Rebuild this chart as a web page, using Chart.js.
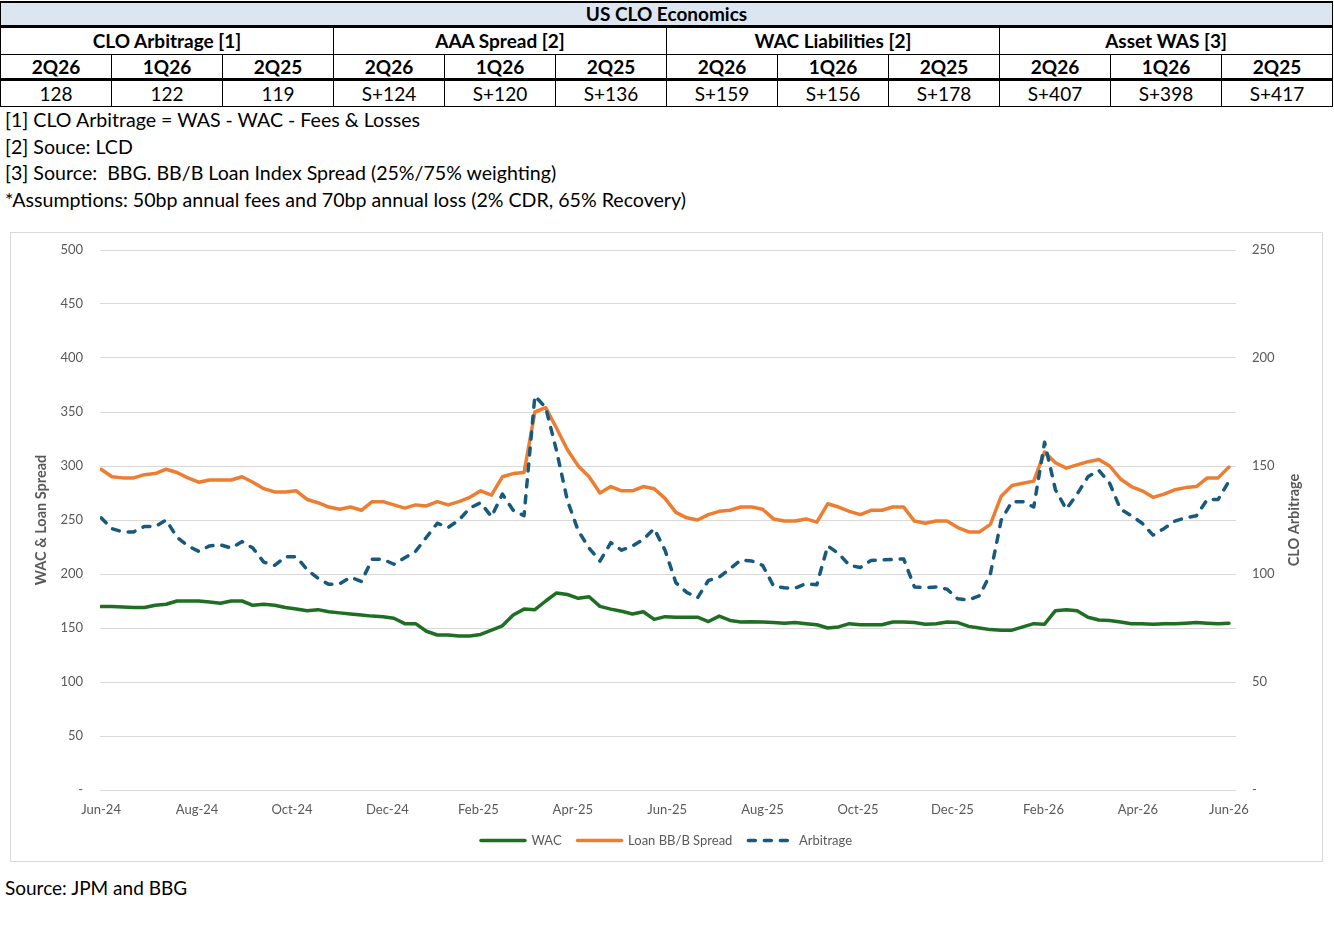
<!DOCTYPE html>
<html>
<head>
<meta charset="utf-8">
<script src="https://cdn.jsdelivr.net/npm/chart.js@4.4.1/dist/chart.umd.min.js"></script>
<style>
body{margin:0;background:#fff;font-family:Lato,"Open Sans",sans-serif;color:#000;}
#tbl{position:absolute;left:0;top:1px;width:1333px;border-collapse:collapse;table-layout:fixed;font-size:19px;}
#tbl td{border:1px solid #000;text-align:center;padding:0;line-height:20px;}
#tbl tr.title td{background:#dce6f1;font-weight:bold;border-top:2px solid #000;border-bottom:3px solid #000;height:22px;}
#tbl tr.grp td{font-weight:bold;height:26px;}
#tbl tr.sub td{font-weight:bold;border-bottom:3px solid #000;height:23px;}
#tbl tr.val td{height:25px;}
#notes{position:absolute;left:5px;top:107px;font-size:19.6px;line-height:26.5px;}
#chartBox{position:absolute;left:10px;top:232px;width:1313px;height:630px;border:1px solid #d9d9d9;box-sizing:border-box;}
#source{position:absolute;left:5px;top:876px;font-size:19px;}
</style>
</head>
<body>
<table id="tbl"></table>
<div id="notes">
[1] CLO Arbitrage = WAS - WAC - Fees &amp; Losses<br>
[2] Souce: LCD<br>
[3] Source:&nbsp; BBG. BB/B Loan Index Spread (25%/75% weighting)<br>
*Assumptions: 50bp annual fees and 70bp annual loss (2% CDR, 65% Recovery)
</div>
<div id="chartBox"><canvas id="clo" width="1311" height="628"></canvas></div>
<div id="source">Source: JPM and BBG</div>

<script>
// table at the top
const tableTitle = 'US CLO Economics';
const tableGroups = ['CLO Arbitrage [1]', 'AAA Spread [2]', 'WAC Liabilities [2]', 'Asset WAS [3]'];
const tableQuarters = ['2Q26', '1Q26', '2Q25'];
const tableValues = [
    ['128', '122', '119'],
    ['S+124', 'S+120', 'S+136'],
    ['S+159', 'S+156', 'S+178'],
    ['S+407', 'S+398', 'S+417']
];

// weekly series, Jun-24 .. Jun-26
const wac = [170,170,169.5,169,169,171,172,175,175,175,174,173,175,175,171,172,171,169,167.5,166,
    167,165,164,163,162,161,160.5,159,154,154,147,143.5,143.5,142.6,142.6,144,148,152,162,167.5,
    167,175,182.5,181,177.5,179,170,167.5,165.5,163,165,158,160.5,160,160,160,156,161,157,155.5,
    155.8,155.5,155,154.5,155,154,153,150,151,154,153,153,153,155.5,155.5,155,153.5,154,155.5,155,
    151.5,150,148.5,148,148,151,154,153.5,166,167,166,160,157.4,157,155.5,154,154,153.5,154,154,
    154.5,155,154.5,154,154.5];
const loanSpread = [297,290,289,289,292,293,297,294,289,285,287,287,287,290,285,279,276,276,277,269,
    266,262,260,262,259,267,267,264,261,264,263,267,264,267,271,277,273,290,293,294,
    350,354,335,315,300,290,275,281,277,277,281,279,270,257,252,250,255,258,259,262,
    262,260,251,249,249,251,248,265,262,258,255,259,259,262,262,249,247,249,249,243,
    239,239,246,272,282,284,286,313,303,298,301,304,306,300,288,281,277,271,274,278,
    280,281,289,289,299];
const arbitrage = [126,121,119.5,119.5,122,122,125,117,113,110.5,113,113.5,112,115,112,105.5,104,108,108,102,
    98,95.2,95.5,98.5,96.5,106.8,106.8,104.5,107.5,110.5,117,123.5,121.5,125,130.5,133,126.5,137,129.5,127,
    182.5,177,157,134,120,112,106,114.5,111,113,116,121,111,96,91.5,89,97,98.5,102.5,106.5,
    106,104,94.5,93.6,93.5,95.5,95,113,109.5,104,103,106.3,106.5,106.7,107,94,93.7,94,93,88.5,
    88,90,100,125,133.5,133.5,131,161,139,130,137,145,148,142,130,127,123.5,118,121,124.5,
    126,127,134.5,134.5,143];

const xTickLabels = ['Jun-24','Aug-24','Oct-24','Dec-24','Feb-25','Apr-25','Jun-25','Aug-25','Oct-25','Dec-25','Feb-26','Apr-26','Jun-26'];
const xTickWeeks = [0, 8.85, 17.6, 26.4, 34.8, 43.5, 52.2, 61.0, 69.8, 78.5, 86.9, 95.6, 104];

function buildTable() {
    let tbl = document.getElementById('tbl');
    let html = '<colgroup>' + '<col>'.repeat(12) + '</colgroup>';
    html += '<tr class="title"><td colspan="12">' + tableTitle + '</td></tr>';
    html += '<tr class="grp">' + tableGroups.map(g => '<td colspan="3">' + g + '</td>').join('') + '</tr>';
    html += '<tr class="sub">' + tableGroups.map(() => tableQuarters.map(q => '<td>' + q + '</td>').join('')).join('') + '</tr>';
    html += '<tr class="val">' + tableValues.map(r => r.map(v => '<td>' + v + '</td>').join('')).join('') + '</tr>';
    tbl.innerHTML = html;
}
buildTable();

function toPoints(values) {
    return values.map((v, i) => ({x: i, y: v}));
}

const tickFont = {family: 'Lato', size: 13};
const titleFont = {family: 'Lato', size: 14.5, weight: 'bold'};
const grey = '#595959';

// Chart.js puts a right-hand title upside down, Excel reads it bottom-to-top
const rightTitle = {
    id: 'rightTitle',
    afterDraw(chart) {
        let ctx = chart.ctx;
        let area = chart.chartArea;
        ctx.save();
        ctx.translate(chart.scales.y1.right - 28, (area.top + area.bottom) / 2);
        ctx.rotate(-Math.PI / 2);
        ctx.font = 'bold 14.5px Lato';
        ctx.fillStyle = grey;
        ctx.textAlign = 'center';
        ctx.textBaseline = 'middle';
        ctx.fillText('CLO Arbitrage', 0, 0);
        ctx.restore();
    }
};

// point-style legend items lose the dash, put it back from the dataset
function legendLabels(chart) {
    let items = Chart.defaults.plugins.legend.labels.generateLabels(chart);
    items.forEach(item => {
        item.lineDash = chart.data.datasets[item.datasetIndex].borderDash || [];
        item.lineCap = 'round';
    });
    return items;
}

new Chart(document.getElementById('clo'), {
    type: 'line',
    data: {
        datasets: [{
            label: 'WAC',
            data: toPoints(wac),
            borderColor: '#1e6e23',
            backgroundColor: '#1e6e23',
            borderWidth: 3.5,
            yAxisID: 'y',
            order: 2
        }, {
            label: 'Loan BB/B Spread',
            data: toPoints(loanSpread),
            borderColor: '#ed7d31',
            backgroundColor: '#ed7d31',
            borderWidth: 3.5,
            yAxisID: 'y',
            order: 1
        }, {
            label: 'Arbitrage',
            data: toPoints(arbitrage),
            borderColor: '#185a7d',
            backgroundColor: '#185a7d',
            borderWidth: 3.5,
            borderDash: [7, 9],
            yAxisID: 'y1',
            order: 0
        }]
    },
    options: {
        responsive: false,
        animation: false,
        elements: {
            point: {radius: 0, pointStyle: 'line'},
            line: {tension: 0, borderJoinStyle: 'round', borderCapStyle: 'round'}
        },
        layout: {padding: {top: 17, bottom: 4, left: 0, right: 0}},
        plugins: {
            tooltip: {enabled: false},
            legend: {
                position: 'bottom',
                labels: {
                    usePointStyle: true,
                    pointStyleWidth: 44,
                    boxHeight: 8,
                    padding: 16,
                    color: grey,
                    font: tickFont,
                    generateLabels: legendLabels,
                    sort: (a, b) => a.datasetIndex - b.datasetIndex
                }
            }
        },
        scales: {
            x: {
                type: 'linear',
                min: -0.1,
                max: 104.65,
                grid: {display: false, drawTicks: false},
                border: {display: false},
                afterBuildTicks: s => { s.ticks = xTickWeeks.map(v => ({value: v})); },
                afterFit: s => { s.height = 28; },
                ticks: {
                    autoSkip: false, maxRotation: 0, padding: 12,
                    color: grey, font: tickFont,
                    callback: (v, i) => xTickLabels[i]
                }
            },
            y: {
                position: 'left',
                min: 0, max: 500,
                grid: {color: '#d9d9d9', drawTicks: true, tickLength: 17, tickColor: 'rgba(0,0,0,0)'},
                border: {display: false},
                afterFit: s => { s.width = 89; },
                ticks: {stepSize: 50, padding: 0, color: grey, font: tickFont,
                    callback: v => v === 0 ? '-' : v},
                title: {display: true, text: 'WAC & Loan Spread', color: grey,
                    font: titleFont, padding: {top: 22, bottom: 0}}
            },
            y1: {
                position: 'right',
                min: 0, max: 250,
                grid: {display: false, drawTicks: true, tickLength: 16},
                border: {display: false},
                afterFit: s => { s.width = 86; },
                ticks: {stepSize: 50, padding: 0, color: grey, font: tickFont,
                    callback: v => v === 0 ? '-' : v}
            }
        }
    },
    plugins: [rightTitle]
});
</script>
</body>
</html>
